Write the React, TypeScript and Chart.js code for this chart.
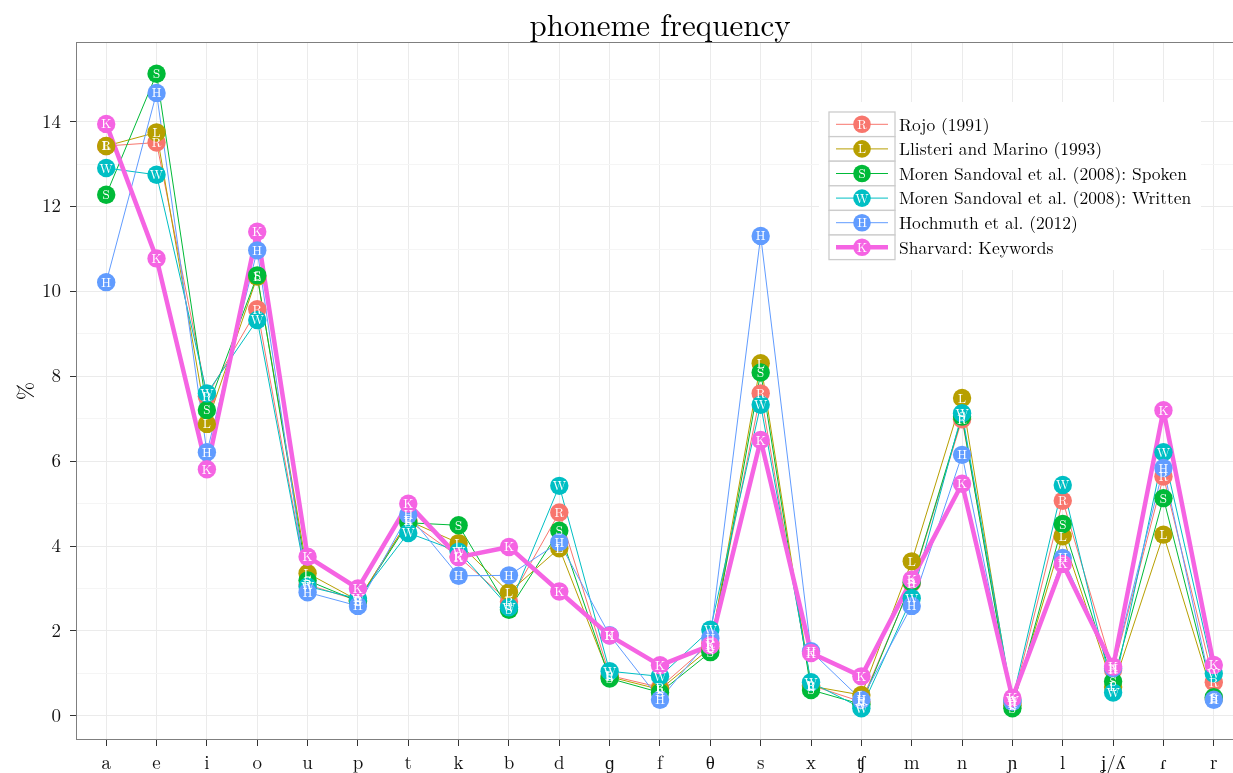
import React, { useEffect, useRef } from 'react';
import { Chart, registerables } from 'chart.js';

Chart.register(...registerables);

const categories = ['a', 'e', 'i', 'o', 'u', 'p', 't', 'k', 'b', 'd', 'ɡ', 'f', 'θ', 's', 'x', 'ʧ', 'm', 'n', 'ɲ', 'l', 'ʝ/ʎ', 'ɾ', 'r'];

const seriesNames = [
  'Rojo (1991)',
  'Llisteri and Marino (1993)',
  'Moren Sandoval et al. (2008): Spoken',
  'Moren Sandoval et al. (2008): Written',
  'Hochmuth et al. (2012)',
  'Sharvard: Keywords',
];
const seriesLetters = ['R', 'L', 'S', 'W', 'H', 'K'];
const seriesColors = ['#F8766D', '#B79F00', '#00BA38', '#00BFC4', '#619CFF', '#F564E3'];

const rojo = [13.43, 13.51, 7.53, 9.58, 3.09, 2.72, 4.6, 3.75, 2.69, 4.79, 0.95, 0.67, 1.71, 7.6, 0.72, 0.33, 3.13, 6.99, 0.3, 5.07, 1.08, 5.64, 0.79];
const llisteri = [13.43, 13.75, 6.88, 10.35, 3.36, 2.72, 4.6, 4.07, 2.91, 3.95, 0.92, 0.62, 1.6, 8.31, 0.7, 0.49, 3.64, 7.49, 0.25, 4.23, 0.68, 4.27, 0.4];
const spoken = [12.28, 15.13, 7.21, 10.38, 3.19, 2.7, 4.55, 4.49, 2.5, 4.36, 0.88, 0.55, 1.5, 8.09, 0.61, 0.27, 3.15, 7.05, 0.18, 4.52, 0.81, 5.13, 0.44];
const written = [12.91, 12.75, 7.6, 9.33, 3.05, 2.76, 4.31, 3.87, 2.56, 5.42, 1.05, 0.93, 2.03, 7.33, 0.79, 0.18, 2.77, 7.13, 0.37, 5.44, 0.55, 6.21, 1.0];
const hochmuth = [10.22, 14.68, 6.21, 10.97, 2.91, 2.59, 4.74, 3.3, 3.31, 4.09, 1.9, 0.38, 1.83, 11.31, 1.52, 0.38, 2.59, 6.15, 0.33, 3.72, 1.12, 5.84, 0.38];
const keywords = [13.95, 10.78, 5.81, 11.41, 3.75, 3.0, 5.0, 3.74, 3.98, 2.93, 1.89, 1.19, 1.66, 6.5, 1.48, 0.93, 3.21, 5.47, 0.42, 3.58, 1.16, 7.2, 1.2];

const seriesValues = [rojo, llisteri, spoken, written, hochmuth, keywords];

const yTickValues = [0, 1, 2, 3, 4, 5, 6, 7, 8, 9, 10, 11, 12, 13, 14, 15];

const TITLE = 'phoneme frequency';
const Y_LABEL = '%';
const FONT = "'Latin Modern Roman', 'CMU Serif', 'Liberation Serif', serif";

const CANVAS_W = 1260;
const CANVAS_H = 773;

const decorPlugin = {
  id: 'decor',
  beforeDraw(chart: any) {
    const ctx = chart.ctx;
    ctx.save();
    ctx.fillStyle = '#ffffff';
    ctx.fillRect(0, 0, chart.width, chart.height);
    ctx.restore();
  },
  afterDatasetsDraw(chart: any) {
    const ctx = chart.ctx;
    const n = seriesValues.length;
    ctx.save();
    ctx.fillStyle = '#ffffff';
    ctx.font = `13px ${FONT}`;
    ctx.textAlign = 'center';
    ctx.textBaseline = 'alphabetic';
    for (let s = 0; s < n; s++) {
      const meta = chart.getDatasetMeta(n + s);
      meta.data.forEach((el: any) => {
        ctx.fillText(seriesLetters[s], el.x, el.y + 4.5);
      });
    }
    // panel border
    const a = chart.chartArea;
    ctx.strokeStyle = '#7f7f7f';
    ctx.lineWidth = 1;
    ctx.strokeRect(Math.round(a.left) + 0.5, Math.round(a.top) + 0.5, Math.round(a.right - a.left) - 1, Math.round(a.bottom - a.top) - 1);
    ctx.restore();
  },
  afterDraw(chart: any) {
    const ctx = chart.ctx;
    const a = chart.chartArea;
    ctx.save();
    // title
    ctx.fillStyle = '#000';
    ctx.font = `31px ${FONT}`;
    ctx.textAlign = 'center';
    ctx.textBaseline = 'alphabetic';
    ctx.fillText(TITLE, (a.left + a.right) / 2, 36);
    // y label
    ctx.save();
    ctx.translate(33, (a.top + a.bottom) / 2);
    ctx.rotate(-Math.PI / 2);
    ctx.font = `22px ${FONT}`;
    ctx.textBaseline = 'alphabetic';
    ctx.fillText(Y_LABEL, 0, 0);
    ctx.restore();

    // legend
    const lx = 829;
    const ly = 112;
    const kw = 66;
    const kh = 24.6;
    ctx.fillStyle = '#ffffff';
    ctx.fillRect(819, 102, 382, 168);
    for (let i = 0; i < seriesNames.length; i++) {
      const y0 = ly + i * kh;
      const cy = y0 + kh / 2;
      ctx.fillStyle = '#ffffff';
      ctx.fillRect(lx, y0, kw, kh);
      ctx.strokeStyle = '#cccccc';
      ctx.lineWidth = 1.3;
      ctx.strokeRect(lx, y0, kw, kh);
      ctx.strokeStyle = seriesColors[i];
      ctx.lineWidth = i === seriesNames.length - 1 ? 4.5 : 1;
      ctx.beginPath();
      ctx.moveTo(lx + 7, cy);
      ctx.lineTo(lx + 59, cy);
      ctx.stroke();
      ctx.fillStyle = seriesColors[i];
      ctx.beginPath();
      ctx.arc(lx + kw / 2, cy, 8.8, 0, Math.PI * 2);
      ctx.fill();
      ctx.fillStyle = '#ffffff';
      ctx.font = `13px ${FONT}`;
      ctx.textAlign = 'center';
      ctx.fillText(seriesLetters[i], lx + kw / 2, cy + 4.5);
      ctx.fillStyle = '#000000';
      ctx.font = `17.5px ${FONT}`;
      ctx.textAlign = 'left';
      ctx.textBaseline = 'middle';
      ctx.fillText(seriesNames[i], 899, cy + 1);
      ctx.textBaseline = 'alphabetic';
    }
    ctx.restore();
  },
};

export default function App() {
  const canvasRef = useRef<HTMLCanvasElement | null>(null);

  useEffect(() => {
    if (!canvasRef.current) return;
    const n = seriesValues.length;
    const lineSets = seriesValues.map((vals, s) => ({
      label: seriesNames[s] + ' line',
      data: vals.map((v, i) => ({ x: i, y: v })),
      borderColor: seriesColors[s],
      backgroundColor: seriesColors[s],
      borderWidth: s === n - 1 ? 4.5 : 1,
      borderJoinStyle: 'round' as const,
      borderCapStyle: 'round' as const,
      pointRadius: 0,
      showLine: true,
      tension: 0,
      order: 100 + (n - 1 - s),
    }));
    const pointSets = seriesValues.map((vals, s) => ({
      label: seriesNames[s],
      data: vals.map((v, i) => ({ x: i, y: v })),
      borderColor: seriesColors[s],
      backgroundColor: seriesColors[s],
      pointBackgroundColor: seriesColors[s],
      pointBorderWidth: 0,
      pointRadius: 9.2,
      showLine: false,
      order: n - 1 - s,
    }));

    const chart = new Chart(canvasRef.current, {
      type: 'line',
      data: { datasets: [...lineSets, ...pointSets] as any },
      options: {
        animation: false,
        responsive: false,
        maintainAspectRatio: false,
        devicePixelRatio: 1,
        events: [],
        layout: { padding: { left: 0, top: 42, right: CANVAS_W - 1244, bottom: 0 } },
        plugins: {
          legend: { display: false },
          title: { display: false },
          tooltip: { enabled: false },
        },
        scales: {
          x: {
            type: 'linear',
            min: -0.6,
            max: 22.6,
            afterBuildTicks: (scale: any) => {
              scale.ticks = categories.map((_, i) => ({ value: i }));
            },
            afterFit: (scale: any) => {
              scale.height = 33;
            },
            ticks: {
              autoSkip: false,
              maxRotation: 0,
              minRotation: 0,
              padding: 6,
              color: '#111111',
              font: { family: FONT, size: 19 },
              callback: (v: any) => categories[Math.round(Number(v))] ?? '',
            },
            grid: {
              color: '#ebebeb',
              lineWidth: 1,
              tickLength: 6,
              tickColor: '#333333',
              tickWidth: 1,
            },
            border: { display: false },
          },
          y: {
            type: 'linear',
            min: -0.57,
            max: 15.88,
            afterBuildTicks: (scale: any) => {
              scale.ticks = yTickValues.map((v) => ({ value: v }));
            },
            afterFit: (scale: any) => {
              scale.width = 76;
            },
            ticks: {
              autoSkip: false,
              padding: 9,
              color: '#111111',
              font: { family: FONT, size: 19 },
              callback: (v: any) => (Number(v) % 2 === 0 ? String(v) : ''),
            },
            grid: {
              color: (c: any) => (c.tick && c.tick.value % 2 !== 0 ? '#f5f5f5' : '#ebebeb'),
              lineWidth: 1,
              tickLength: 6,
              tickColor: (c: any) => (c.tick && c.tick.value % 2 !== 0 ? 'rgba(0,0,0,0)' : '#333333'),
              tickWidth: 1,
            },
            border: { display: false },
          },
        },
      },
      plugins: [decorPlugin],
    });
    return () => chart.destroy();
  }, []);

  return (
    <div
      style={{
        position: 'fixed',
        left: 0,
        top: 0,
        width: 1233,
        height: 773,
        overflow: 'hidden',
        background: '#ffffff',
      }}
    >
      <canvas
        ref={canvasRef}
        width={CANVAS_W}
        height={CANVAS_H}
        style={{ display: 'block', width: CANVAS_W, height: CANVAS_H }}
      />
    </div>
  );
}
